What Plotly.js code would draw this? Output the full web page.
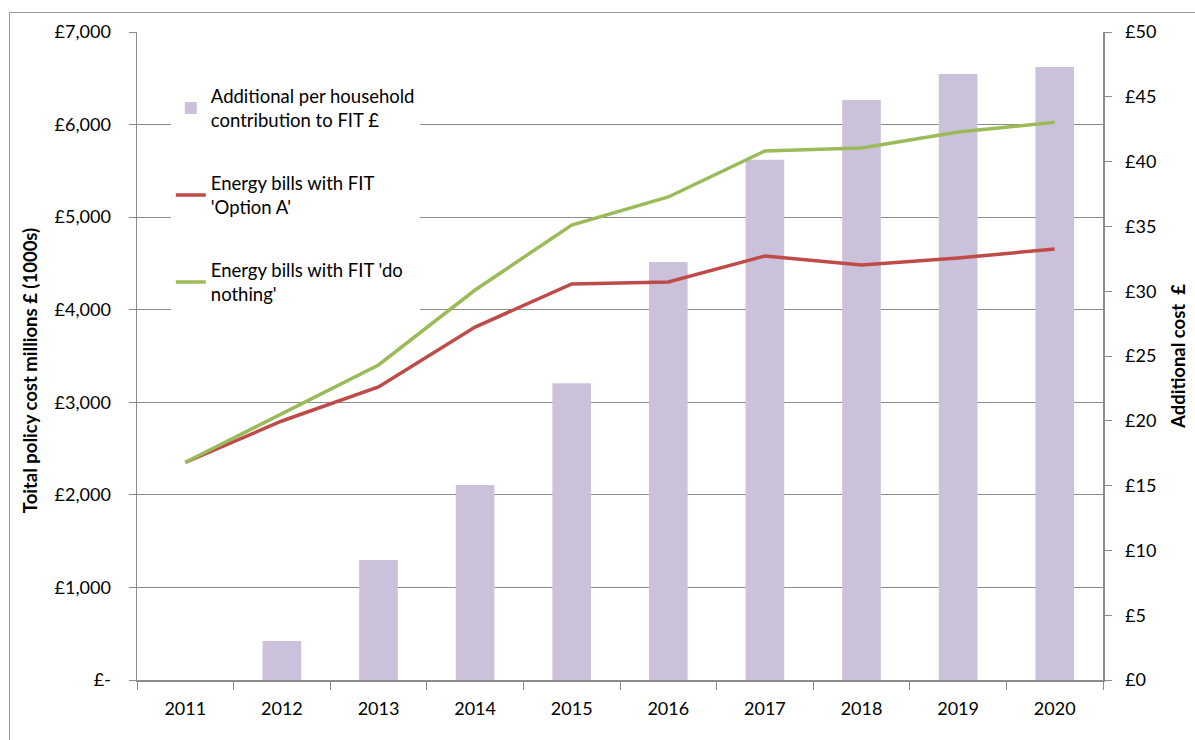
<!DOCTYPE html>
<html>
<head>
<meta charset="utf-8">
<script src="https://cdn.plot.ly/plotly-3.0.1.min.js"></script>
<style>
  html, body { margin: 0; padding: 0; background: #fff; }
  #frame { position: absolute; left: 9px; top: 12px; width: 1300px; height: 900px;
           border-left: 1px solid #9a9a9a; border-top: 1px solid #9a9a9a; box-sizing: border-box; }
  #chart { position: absolute; left: 0; top: 0; width: 1195px; height: 740px; }
</style>
</head>
<body>
<div id="frame"></div>
<div id="chart"></div>
<script>
const years = ['2011','2012','2013','2014','2015','2016','2017','2018','2019','2020'];
const householdContribution = [0, 3.0, 9.25, 15.05, 22.9, 32.25, 40.15, 44.75, 46.75, 47.3];
const billsOptionA = [2352, 2798, 3165, 3813, 4278, 4299, 4580, 4483, 4559, 4656];
const billsDoNothing = [2352, 2873, 3403, 4213, 4915, 5218, 5715, 5747, 5920, 6024];
const leftTickVals = [0, 1000, 2000, 3000, 4000, 5000, 6000, 7000];
const leftTickText = ['£-', '£1,000', '£2,000', '£3,000', '£4,000', '£5,000', '£6,000', '£7,000'];
const rightTickVals = [0, 5, 10, 15, 20, 25, 30, 35, 40, 45, 50];
const rightTickText = ['£0', '£5', '£10', '£15', '£20', '£25', '£30', '£35', '£40', '£45', '£50'];
const leftMax = 7000, rightMax = 50;

const font = 'Lato, "Open Sans", sans-serif';
const axisGray = '#8c8c8c';

const traces = [
  {
    type: 'bar', x: years, y: householdContribution, yaxis: 'y',
    name: 'Additional per household<br>contribution to FIT £',
    marker: { color: '#CCC1DA' }, legendgroup: 'a'
  },
  {
    type: 'scatter', mode: 'lines', x: years, y: billsOptionA, yaxis: 'y2',
    name: "Energy bills with FIT<br>'Option A'",
    line: { color: '#BE4B48', width: 3.5 }, legendgroup: 'b'
  },
  {
    type: 'scatter', mode: 'lines', x: years, y: billsDoNothing, yaxis: 'y2',
    name: "Energy bills with FIT 'do<br>nothing'",
    line: { color: '#9BBB59', width: 3.5 }, legendgroup: 'c'
  }
];

const layout = {
  width: 1195, height: 740,
  margin: { l: 137, r: 92, t: 32, b: 60 },
  paper_bgcolor: 'rgba(0,0,0,0)', plot_bgcolor: 'rgba(0,0,0,0)',
  font: { family: font, size: 18, color: '#000' },
  bargap: 0.6,
  showlegend: true,
  legend: {
    x: 0.035, y: 0.93, xanchor: 'left', yanchor: 'top',
    bgcolor: '#ffffff', borderwidth: 0,
    font: { family: font, size: 18.5, color: '#000' },
    tracegroupgap: 36, traceorder: 'grouped', itemwidth: 30
  },
  xaxis: {
    type: 'category', showline: true, linecolor: axisGray, linewidth: 1.5,
    ticks: 'outside', tickson: 'boundaries', ticklen: 8, tickcolor: axisGray,
    showgrid: false, tickfont: { size: 18 }, ticklabelstandoff: 12
  },
  yaxis: {
    side: 'right', range: [0, rightMax], tickvals: rightTickVals, ticktext: rightTickText,
    showline: true, linecolor: axisGray, linewidth: 1.5, ticks: 'outside', ticklen: 7, tickcolor: axisGray,
    showgrid: false, zeroline: false, ticklabelstandoff: 10,
    minor: {
      tickvals: leftTickVals.map(v => v * rightMax / leftMax),
      showgrid: true, gridcolor: axisGray, gridwidth: 1.2, ticks: ''
    }
  },
  yaxis2: {
    overlaying: 'y', side: 'left', range: [0, leftMax], tickvals: leftTickVals, ticktext: leftTickText,
    showline: true, linecolor: axisGray, linewidth: 1.5, ticks: 'outside', ticklen: 7, tickcolor: axisGray,
    showgrid: false, zeroline: false, ticklabelstandoff: 14
  },
  annotations: [
    {
      text: '<b>Toital policy cost millions £ (1000s)</b>', textangle: -90,
      xref: 'paper', yref: 'paper', x: -0.1108, y: 0.478, xanchor: 'center', yanchor: 'middle',
      showarrow: false, font: { family: font, size: 18.5, color: '#000' }
    },
    {
      text: '<b>Additional cost  £</b>', textangle: -90,
      xref: 'paper', yref: 'paper', x: 1.0776, y: 0.5, xanchor: 'center', yanchor: 'middle',
      showarrow: false, font: { family: font, size: 18.5, color: '#000' }
    }
  ]
};

Plotly.newPlot('chart', traces, layout, { displayModeBar: false, staticPlot: true });
</script>
</body>
</html>
